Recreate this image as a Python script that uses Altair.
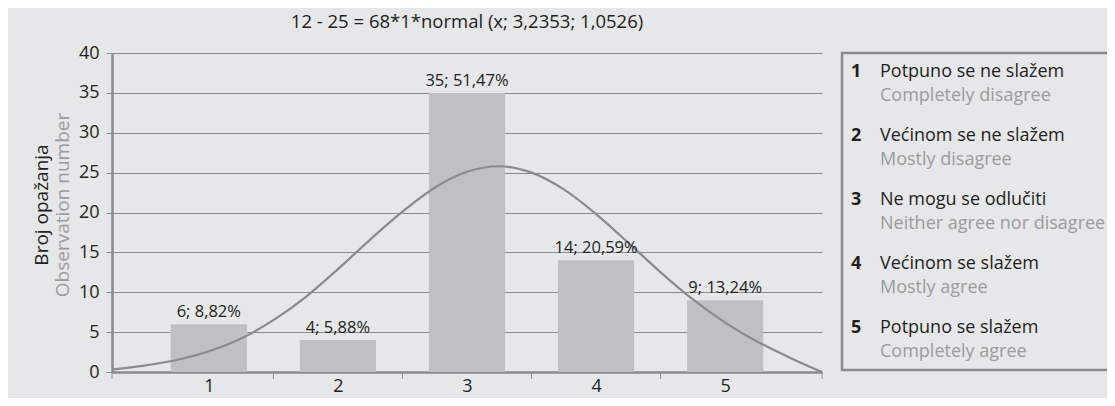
import altair as alt
import pandas as pd

# ---- data ----
categories = [1, 2, 3, 4, 5]
counts = [6, 4, 35, 14, 9]
bar_labels = ["6; 8,82%", "4; 5,88%", "35; 51,47%", "14; 20,59%", "9; 13,24%"]

curve_x = [0.25, 0.5, 0.75, 1.0, 1.25, 1.5, 1.75, 2.0, 2.25, 2.5, 2.75, 3.0,
           3.25, 3.5, 3.75, 4.0, 4.25, 4.5, 4.75, 5.0, 5.25, 5.5, 5.75]
curve_y = [0.3, 0.8, 1.5, 2.6, 4.2, 6.5, 9.4, 12.9, 16.6, 20.1, 23.1, 25.1,
           25.8, 25.0, 22.9, 19.8, 16.2, 12.5, 9.1, 6.2, 3.8, 1.8, 0.0]

y_ticks = [0, 5, 10, 15, 20, 25, 30, 35, 40]
tick_marks = [0.25, 1.5, 2.5, 3.5, 4.5, 5.75]

legend_nums = ["1", "2", "3", "4", "5"]
legend_hr = ["Potpuno se ne slažem", "Većinom se ne slažem", "Ne mogu se odlučiti",
             "Većinom se slažem", "Potpuno se slažem"]
legend_en = ["Completely disagree", "Mostly disagree", "Neither agree nor disagree",
             "Mostly agree", "Completely agree"]

title_text = "12 - 25 = 68*1*normal (x; 3,2353; 1,0526)"
y_title_hr = "Broj opažanja"
y_title_en = "Observation number"

FONT = "Open Sans"
BG = "#e6e7e8"
BAR = "#bfc0c2"
LINE = "#8a8b8d"
GRAYTXT = "#9a9c9e"
TXT = "#231f20"

W, H = 710, 319

bars_df = pd.DataFrame({"cat": categories, "count": counts, "label": bar_labels})
curve_df = pd.DataFrame({"x": curve_x, "y": curve_y})
ticks_df = pd.DataFrame({"t": tick_marks})
leg_df = pd.DataFrame({"i": list(range(5)), "num": legend_nums, "hr": legend_hr, "en": legend_en})

xscale = alt.Scale(domain=[0.25, 5.75], nice=False, zero=False)
yscale = alt.Scale(domain=[0, 40], nice=False)

xaxis = alt.Axis(values=categories, format="d", ticks=False, grid=False, title=None,
                 labelFontSize=18, labelFont=FONT, labelColor=TXT, labelPadding=5,
                 domainColor=LINE, domainWidth=2.5, labelOverlap=False)
yaxis = alt.Axis(values=y_ticks, title=None, labelOverlap=False,
                 labelFontSize=18, labelFont=FONT, labelColor=TXT, labelPadding=7,
                 tickSize=6, tickColor=LINE, tickWidth=1,
                 grid=True, gridColor=LINE, gridWidth=1,
                 domainColor=LINE, domainWidth=2.5)

base = alt.Chart(bars_df)

bars = base.transform_calculate(
    x0="datum.cat - 0.295", x1="datum.cat + 0.295", zero="0"
).mark_rect(color=BAR).encode(
    x=alt.X("x0:Q", scale=xscale, axis=xaxis),
    x2="x1:Q",
    y=alt.Y("count:Q", scale=yscale, axis=yaxis),
    y2="zero:Q",
)

labels = base.mark_text(baseline="bottom", dy=-4, fontSize=16.5, font=FONT, color=TXT).encode(
    x=alt.X("cat:Q", scale=xscale, axis=xaxis),
    y=alt.Y("count:Q", scale=yscale, axis=yaxis),
    text="label:N",
)

curve = alt.Chart(curve_df).mark_line(color=LINE, strokeWidth=2.2, interpolate="monotone").encode(
    x=alt.X("x:Q", scale=xscale, axis=xaxis),
    y=alt.Y("y:Q", scale=yscale, axis=yaxis),
)

xticks = alt.Chart(ticks_df).mark_rule(color=LINE, strokeWidth=1).encode(
    x=alt.X("t:Q", scale=xscale, axis=xaxis),
    y=alt.value(H),
    y2=alt.value(H + 7),
)

# y axis titles (two coloured lines)
ytitle1 = alt.Chart(pd.DataFrame({"t": [y_title_hr]})).mark_text(
    angle=270, fontSize=19, font=FONT, color=TXT, baseline="middle", align="center"
).encode(x=alt.value(-70), y=alt.value(152), text="t:N")
ytitle2 = alt.Chart(pd.DataFrame({"t": [y_title_en]})).mark_text(
    angle=270, fontSize=19, font=FONT, color=GRAYTXT, baseline="middle", align="center"
).encode(x=alt.value(-49), y=alt.value(152), text="t:N")

title = alt.Chart(pd.DataFrame({"t": [title_text]})).mark_text(
    fontSize=18.5, font=FONT, color=TXT, baseline="middle", align="center"
).encode(x=alt.value(W / 2), y=alt.value(-31), text="t:N")

# legend box
legbox = alt.Chart(pd.DataFrame({"a": [0]})).mark_rect(
    fill=BG, stroke=LINE, strokeWidth=2.5
).encode(x=alt.value(730), x2=alt.value(1020), y=alt.value(0), y2=alt.value(317))

leg = alt.Chart(leg_df).transform_calculate(
    py="19 + 64 * datum.i", py2="43 + 64 * datum.i"
)
leg_num = leg.mark_text(align="left", baseline="middle", fontSize=18, font=FONT,
                        fontWeight="bold", color=TXT).encode(
    x=alt.value(739), y=alt.Y("py:Q", scale=None), text="num:N")
leg_hr = leg.mark_text(align="left", baseline="middle", fontSize=18, font=FONT,
                       color=TXT).encode(
    x=alt.value(768), y=alt.Y("py:Q", scale=None), text="hr:N")
leg_en = leg.mark_text(align="left", baseline="middle", fontSize=18, font=FONT,
                       color=GRAYTXT).encode(
    x=alt.value(768), y=alt.Y("py2:Q", scale=None), text="en:N")

chart = alt.layer(
    bars, curve, labels, xticks, ytitle1, ytitle2, title, legbox, leg_num, leg_hr, leg_en
).properties(
    width=W, height=H,
    background=BG,
    padding={"left": 104, "top": 45, "right": 285, "bottom": 26},
    autosize=alt.AutoSizeParams(type="none"),
).configure_view(stroke=None)

chart.save("out.html", embed_options={"renderer": "svg", "actions": False})
